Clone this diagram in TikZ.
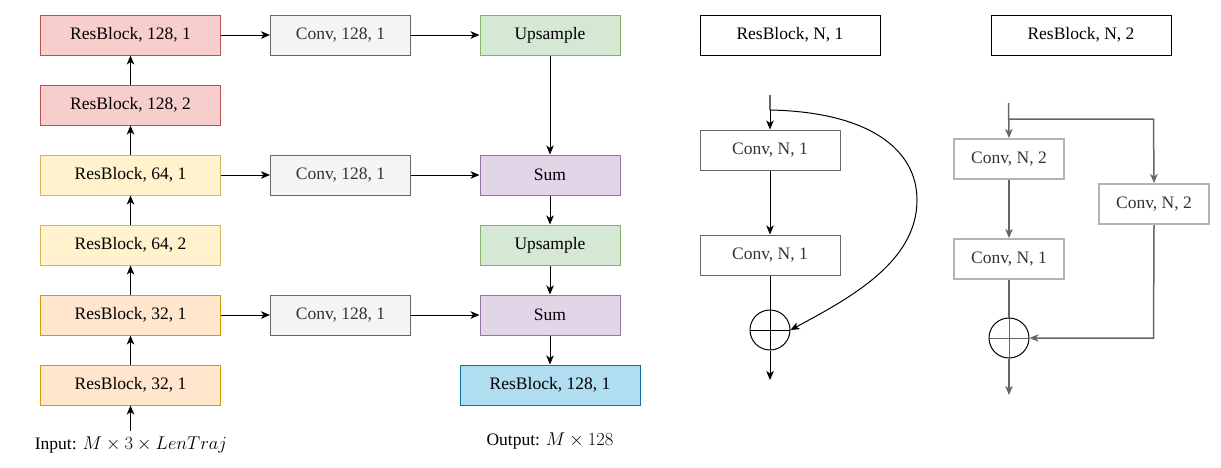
\RequirePackage{fix-cm}
\documentclass[tikz,border=0pt]{standalone}
\usepackage[no-math]{fontspec}
\setmainfont{Liberation Serif}
\usetikzlibrary{arrows.meta}
\definecolor{redF}{HTML}{F8CECC}\definecolor{redD}{HTML}{B85450}
\definecolor{yelF}{HTML}{FFF2CC}\definecolor{yelD}{HTML}{D6B656}
\definecolor{oraF}{HTML}{FFE6CC}\definecolor{oraD}{HTML}{D79B00}
\definecolor{gryF}{HTML}{F5F5F5}\definecolor{gryD}{HTML}{666666}
\definecolor{grnF}{HTML}{D5E8D4}\definecolor{grnD}{HTML}{82B366}
\definecolor{purF}{HTML}{E1D5E7}\definecolor{purD}{HTML}{9673A6}
\definecolor{bluF}{HTML}{B1DDF0}\definecolor{bluD}{HTML}{10739E}
\definecolor{txtG}{HTML}{333333}
\definecolor{ltG}{HTML}{B3B3B3}
\newcommand{\bigmath}[1]{{\fontsize{18.5}{21}\selectfont$#1$}}
\tikzset{
  x=1pt, y=-1pt,
  every node/.style={font=\fontsize{17.5}{21}\selectfont},
  box/.style={draw, line width=1pt, minimum height=40pt, inner sep=0pt, anchor=center},
  wide/.style={box, minimum width=180pt},
  mid/.style={box, minimum width=140pt},
  redbox/.style={wide, fill=redF, draw=redD},
  yelbox/.style={wide, fill=yelF, draw=yelD},
  orabox/.style={wide, fill=oraF, draw=oraD},
  convbox/.style={mid, fill=gryF, draw=gryD, text=txtG},
  grnbox/.style={mid, fill=grnF, draw=grnD},
  purbox/.style={mid, fill=purF, draw=purD},
  blubox/.style={wide, fill=bluF, draw=bluD},
  hdrbox/.style={wide, draw=black},
  lconv/.style={mid, draw=gryD, text=txtG},
  rconv/.style={box, line width=2pt, draw=ltG, text=txtG},
  sumcirc/.style={circle, draw=black, line width=1pt, minimum size=40pt, inner sep=0pt,
    path picture={\draw[#1, line width=1pt] (path picture bounding box.north) -- (path picture bounding box.south)
      (path picture bounding box.west) -- (path picture bounding box.east);}},
  arr/.style={-{Stealth[length=9pt,width=7.5pt,inset=2.5pt]}, line width=1pt},
  garr/.style={arr, draw=gryD, line width=1.5pt},
  gline/.style={draw=gryD, line width=1.5pt},
}
\begin{document}
\begin{tikzpicture}
\useasboundingbox[fill=white] (0,0) rectangle (1221,467);
% left column
\node[redbox] (r1) at (130.5,35) {ResBlock, 128, 1};
\node[redbox] (r2) at (130.5,105) {ResBlock, 128, 2};
\node[yelbox] (y1) at (130.5,175) {ResBlock, 64, 1};
\node[yelbox] (y2) at (130.5,245) {ResBlock, 64, 2};
\node[orabox] (o1) at (130.5,315) {ResBlock, 32, 1};
\node[orabox] (o2) at (130.5,385) {ResBlock, 32, 1};
\node (inp) at (131,445) {Input: \bigmath{M\times 3\times LenTraj}};
\coordinate (inA) at (130.5,431);
% conv column
\node[convbox] (c1) at (340.5,35) {Conv, 128, 1};
\node[convbox] (c2) at (340.5,175) {Conv, 128, 1};
\node[convbox] (c3) at (340.5,315) {Conv, 128, 1};
% right column
\node[grnbox] (u1) at (550,35) {Upsample};
\node[purbox] (s1) at (550,175) {Sum};
\node[grnbox] (u2) at (550,245) {Upsample};
\node[purbox] (s2) at (550,315) {Sum};
\node[blubox] (out) at (550,385) {ResBlock, 128, 1};
\node (outl) at (550,441) {Output: \bigmath{M\times 128}};
% arrows
\draw[arr] (inA) -- (o2.south);
\draw[arr] (o2) -- (o1);
\draw[arr] (o1) -- (y2);
\draw[arr] (y2) -- (y1);
\draw[arr] (y1) -- (r2);
\draw[arr] (r2) -- (r1);
\draw[arr] (r1) -- (c1);
\draw[arr] (c1) -- (u1);
\draw[arr] (y1) -- (c2);
\draw[arr] (c2) -- (s1);
\draw[arr] (o1) -- (c3);
\draw[arr] (c3) -- (s2);
\draw[arr] (u1) -- (s1);
\draw[arr] (s1) -- (u2);
\draw[arr] (u2) -- (s2);
\draw[arr] (s2) -- (out);
% headers
\node[hdrbox] (hA) at (790,35) {ResBlock, N, 1};
\node[hdrbox] (hB) at (1081,35) {ResBlock, N, 2};
% ResBlock N,1
\coordinate (a0) at (770,95);
\coordinate (a1) at (770,110);
\coordinate (a2) at (770,380);
\node[lconv] (ca) at (770,150) {Conv, N, 1};
\node[lconv] (cb) at (770,255) {Conv, N, 1};
\node[sumcirc=black] (pa) at (770,330) {};
\draw[gline] (a0) -- (a1);
\draw[arr] (a1) -- (ca.north);
\draw[arr] (ca) -- (cb);
\draw[line width=1pt] (cb.south) -- (pa.north);
\draw[arr] (pa.south) -- (a2);
\draw[arr] (a1) .. controls (870,112) and (917,150) .. (917,200)
   .. controls (917,262) and (850,298) .. (pa.east);
% ResBlock N,2
\coordinate (b0) at (1008.5,103);
\coordinate (b1) at (1008.5,119);
\coordinate (b2) at (1153.5,119);
\coordinate (b3) at (1009,395);
\node[rconv, minimum width=110pt] (cc) at (1009,159) {Conv, N, 2};
\node[rconv, minimum width=110pt] (cd) at (1154,204) {Conv, N, 2};
\node[rconv, minimum width=110pt] (ce) at (1009,259) {Conv, N, 1};
\node[sumcirc=gryD] (pb) at (1009,338) {};
\coordinate (b4) at (1153.5,338);
\draw[garr] (b0) -- (cc.north);
\draw[garr] (b1) -- (b2) -- (cd.north);
\draw[garr] (cc) -- (ce);
\draw[gline] (ce.south) -- (pb.north);
\draw[garr] (pb.south) -- (b3);
\draw[garr] (cd.south) -- (b4) -- (pb.east);
\end{tikzpicture}
\end{document}
